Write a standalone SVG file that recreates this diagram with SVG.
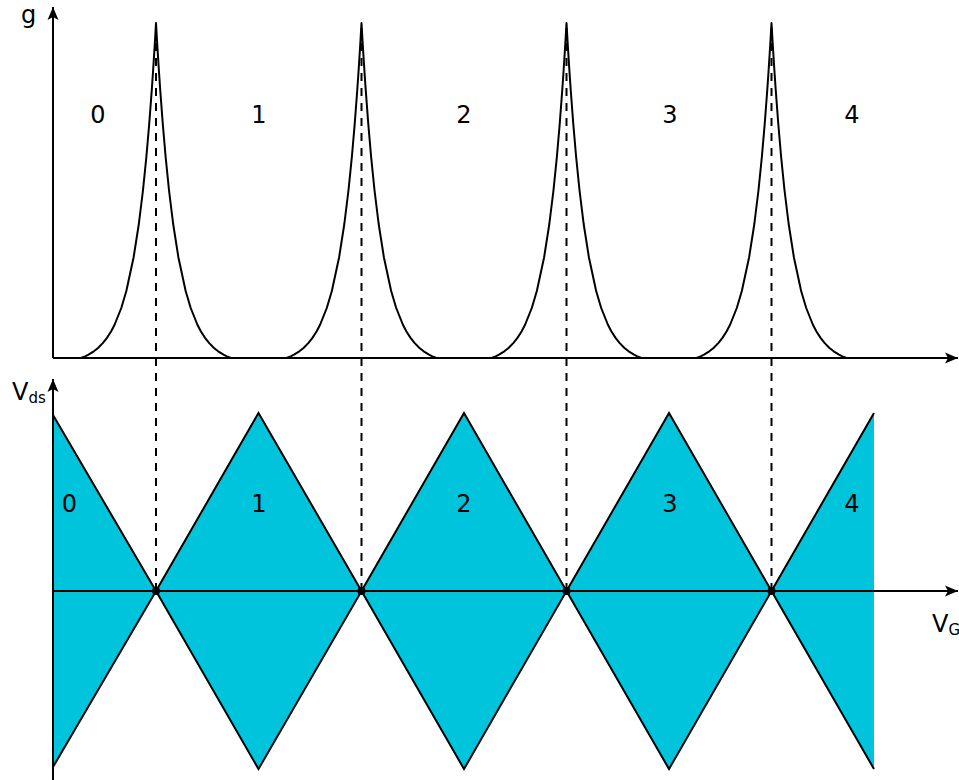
<svg xmlns="http://www.w3.org/2000/svg" width="959" height="780" viewBox="0 0 959 780">
<style>
.ax{stroke:#000;stroke-width:2;fill:none}
.crv{stroke:#000;stroke-width:2;fill:none;stroke-linejoin:round}
.dash{stroke:#000;stroke-width:2;fill:none;stroke-dasharray:8,7}
.fill{fill:#00C3DC;stroke:none}
.edge{stroke:#000;stroke-width:2;fill:none;stroke-linejoin:miter}
.t{font-family:"DejaVu Sans","Liberation Sans",sans-serif;font-size:24px;fill:#000}
.sub{font-family:"DejaVu Sans","Liberation Sans",sans-serif;font-size:15px;fill:#000}
</style>
<defs>
<marker id="arr" markerUnits="userSpaceOnUse" markerWidth="14" markerHeight="12" refX="13" refY="6" orient="auto">
<path d="M0,0.5 L13,6 L0,11.5 L3,6 Z" fill="#000"/>
</marker>
<path id="peak" class="crv" d="M-75,358 L-70.88,356.3 L-67.5,354.65 L-62.17,351.3 L-57.97,347.95 L-53,342.9 L-49.06,337.9 L-44.8,331.2 L-41.31,324.5 L-34.62,307.75 L-29.66,291 L-22.43,257.5 L-17.17,224 L-13.04,190.5 L-9.64,157 L-6.75,123.5 L-4.23,90 L-3.08,73.25 L-2,56.5 L-0.97,39.75 L0,23 L0.97,39.75 L2,56.5 L3.08,73.25 L4.23,90 L6.75,123.5 L9.64,157 L13.04,190.5 L17.17,224 L22.43,257.5 L29.66,291 L34.62,307.75 L41.31,324.5 L44.8,331.2 L49.06,337.9 L53,342.9 L57.97,347.95 L62.17,351.3 L67.5,354.65 L70.88,356.3 L75,358"/>
</defs>
<g id="diamonds">
<polygon class="fill" points="53,415 156,591 53,767"/>
<polygon class="fill" points="156,591 258.5,413 361.5,591 258.5,769"/>
<polygon class="fill" points="361.5,591 464,413 566.5,591 464,769"/>
<polygon class="fill" points="566.5,591 669,413 771.5,591 669,769"/>
<polygon class="fill" points="771.5,591 874,413 874,769"/>
<path class="edge" d="M53,415 L156,591 L258.5,413 L361.5,591 L464,413 L566.5,591 L669,413 L771.5,591 L874,413"/>
<path class="edge" d="M53,767 L156,591 L258.5,769 L361.5,591 L464,769 L566.5,591 L669,769 L771.5,591 L874,769"/>
</g>
<g id="connectors">
<line class="dash" x1="156" y1="28" x2="156" y2="591"/>
<line class="dash" x1="361.5" y1="28" x2="361.5" y2="591"/>
<line class="dash" x1="566.5" y1="28" x2="566.5" y2="591"/>
<line class="dash" x1="771.5" y1="28" x2="771.5" y2="591"/>
</g>
<g id="axes">
<line class="ax" x1="53" y1="358" x2="53" y2="7" marker-end="url(#arr)"/>
<line class="ax" x1="53" y1="358" x2="958" y2="358" marker-end="url(#arr)"/>
<line class="ax" x1="53" y1="780" x2="53" y2="379" marker-end="url(#arr)"/>
<line class="ax" x1="53" y1="591" x2="958" y2="591" marker-end="url(#arr)"/>
</g>
<g id="peaks">
<g id="peak0"><use href="#peak" x="156"/></g>
<g id="peak1"><use href="#peak" x="361.5"/></g>
<g id="peak2"><use href="#peak" x="566.5"/></g>
<g id="peak3"><use href="#peak" x="771.5"/></g>
</g>
<g id="dots">
<circle cx="156" cy="591" r="4"/>
<circle cx="361.5" cy="591" r="4"/>
<circle cx="566.5" cy="591" r="4"/>
<circle cx="771.5" cy="591" r="4"/>
</g>
<g id="labels">
<text class="t" x="21" y="23">g</text>
<text class="t" x="98" y="123" text-anchor="middle">0</text>
<text class="t" x="259" y="123" text-anchor="middle">1</text>
<text class="t" x="464" y="123" text-anchor="middle">2</text>
<text class="t" x="670" y="123" text-anchor="middle">3</text>
<text class="t" x="852" y="123" text-anchor="middle">4</text>
<text class="t" x="69.5" y="512" text-anchor="middle">0</text>
<text class="t" x="259" y="512" text-anchor="middle">1</text>
<text class="t" x="464" y="512" text-anchor="middle">2</text>
<text class="t" x="670" y="512" text-anchor="middle">3</text>
<text class="t" x="852" y="512" text-anchor="middle">4</text>
<text class="t" x="12" y="400">V<tspan class="sub" dy="3">ds</tspan></text>
<text class="t" x="932" y="632">V<tspan class="sub" dy="3">G</tspan></text>
</g>
</svg>
